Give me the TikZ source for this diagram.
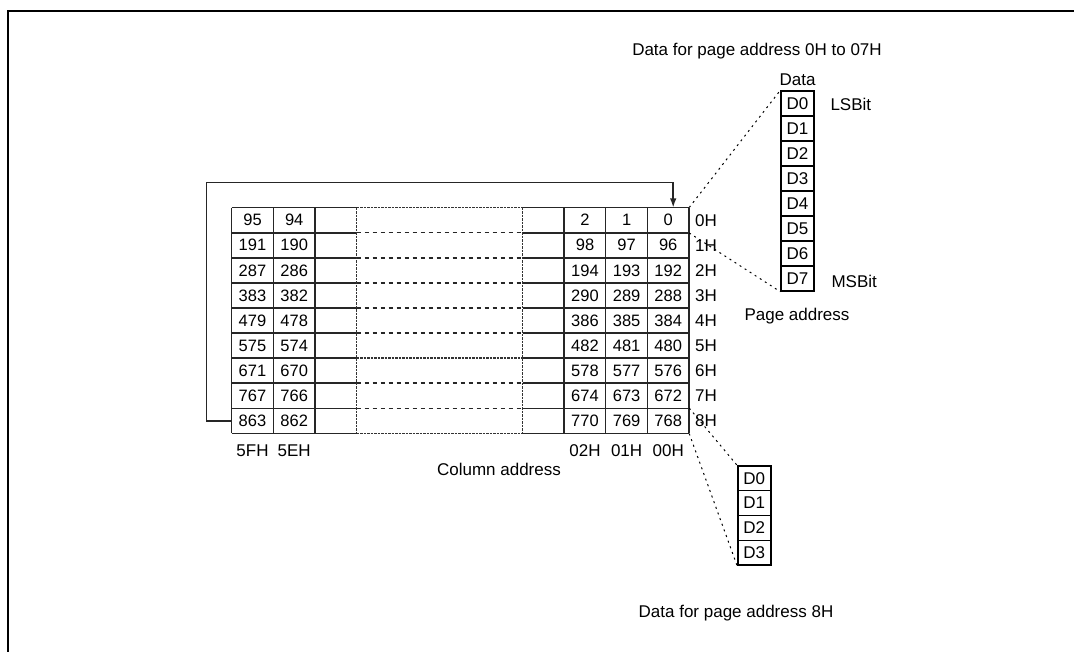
\documentclass[tikz,border=0pt]{standalone}
\usepackage{fontspec}
\setmainfont{Liberation Sans}
\usetikzlibrary{arrows.meta}

\begin{document}
\begin{tikzpicture}[x=1pt,y=-1pt,
  every node/.style={font=\fontsize{17}{20}\selectfont},
  cell/.style={minimum width=41.6pt,minimum height=25.07pt,inner sep=0pt,font=\fontsize{16.5}{19}\selectfont},
  bitbox/.style={draw,line width=1.4pt,minimum width=33pt,minimum height=25pt,inner sep=0pt},
  gridline/.style={line width=1.5pt,black!85},
  loosedash/.style={line width=1.4pt,black!85,dash pattern=on 4pt off 4pt},
  densedash/.style={line width=1.4pt,black!80,dash pattern=on 2.5pt off 1pt},
  dotline/.style={line width=1pt,dash pattern=on 2pt off 4pt}]

  \useasboundingbox (0,0) rectangle (1074,652);

  \def\RT{207.7}  % top of the table
  \def\RH{25.07}  % row height
  \def\CW{41.6}   % column width
  \def\LX{231.7}  % left block
  \def\MX{356.5}  % dashed block, left edge
  \def\NX{522.5}  % right block

  % Outer frame (runs off the page on the right and bottom)
  \draw[line width=2.5pt] (8,11) rectangle (1090,670);

  % Horizontal lines of the table
  \foreach \r in {0,...,9}{
    \draw[gridline] (\LX,\RT+\r*\RH) -- (\MX,\RT+\r*\RH);
    \draw[gridline] (\NX,\RT+\r*\RH) -- (\NX+4*\CW,\RT+\r*\RH);
  }
  % Middle block, left out of the picture
  \foreach \r in {1,2,3,4,5,7,8}
    \draw[loosedash] (\MX,\RT+\r*\RH) -- (\NX,\RT+\r*\RH);
  \foreach \r in {0,6,9}
    \draw[densedash] (\MX,\RT+\r*\RH) -- (\NX,\RT+\r*\RH);
  \draw[densedash] (\MX,\RT) -- (\MX,\RT+9*\RH);
  \draw[densedash] (\NX,\RT) -- (\NX,\RT+9*\RH);

  % Vertical lines of the table
  \foreach \c in {0,1,2}
    \draw[gridline] (\LX+\c*\CW,\RT) -- (\LX+\c*\CW,\RT+9*\RH);
  \foreach \c in {1,2,3,4}
    \draw[gridline] (\NX+\c*\CW,\RT) -- (\NX+\c*\CW,\RT+9*\RH);

  % Cell contents, named by column address
  \foreach \r in {0,...,8}{
    \foreach \c/\k/\x in {00/0/668.2, 01/1/626.6, 02/2/585.0, 5E/94/294.2, 5F/95/252.5}{
      \pgfmathtruncatemacro{\v}{96*\r+\k}
      \node[cell] (cell\r-\c) at (\x,\RT+\r*\RH+0.5*\RH) {\v};
    }
    % Page address
    \node[anchor=west,inner sep=0pt] (page\r) at (695,\RT+\r*\RH+0.5*\RH) {\r H};
  }

  % Column address labels
  \node (col5F) at (252.5,451) {5FH};
  \node (col5E) at (294.2,451) {5EH};
  \node (col02) at (585.0,451) {02H};
  \node (col01) at (626.6,451) {01H};
  \node (col00) at (668.2,451) {00H};
  \node (coladdr) at (499,469) {Column address};

  % Wrap-around arrow
  \coordinate (loopcorner) at (206.7,182.7);
  \draw[gridline,-{Latex[length=9pt,width=6.5pt]}] (cell8-5F.west) -| (loopcorner)
    -| ([xshift=5pt]cell0-00.north);

  % Data bits for page 0H to 07H
  \node (datatop) at (757,51) {Data for page address 0H to 07H};
  \node (datahead) at (797.5,80) {Data};
  \foreach \i in {0,...,7}
    \node[bitbox] (d\i) at (797.5,103.5+25*\i) {D\i};
  \node[anchor=west] (lsb) at (827,104) {LSBit};
  \node[anchor=west] (msb) at (828,281) {MSBit};
  \node (pageaddr) at (797,316) {Page address};

  % Data bits for page 8H
  \foreach \i in {0,...,3}
    \node[bitbox,minimum height=24.75pt] (e\i) at (754.3,478.4+24.75*\i) {D\i};
  \node (databot) at (736,613) {Data for page address 8H};

  % Dotted guides
  \draw[dotline] (cell0-00.north east) -- (d0.north west);
  \draw[dotline] (cell0-00.south east) -- (d7.south west);
  \draw[dotline] (cell8-00.north east) -- (e0.north west);
  \draw[dotline] (cell8-00.south east) -- (e3.south west);

\end{tikzpicture}
\end{document}
